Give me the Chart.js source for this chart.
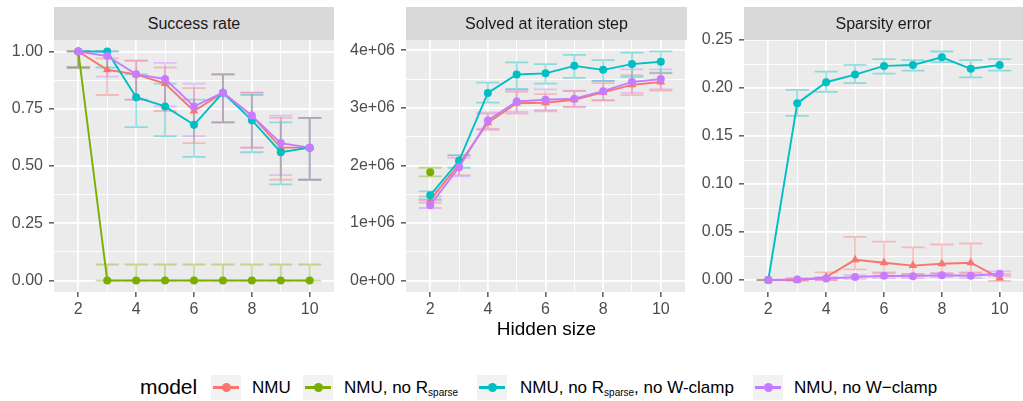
<!DOCTYPE html>
<html>
<head>
<meta charset="utf-8">
<script src="https://cdn.jsdelivr.net/npm/chart.js@4.4.1/dist/chart.umd.min.js"></script>
<style>
  body { margin: 0; background: #fff; font-family: "Liberation Sans", Arial, sans-serif; }
  #wrap { position: relative; width: 1023px; height: 401px; overflow: hidden; }
  canvas { position: absolute; top: 0; }
  .strip { position: absolute; top: 7px; height: 33px; background: #D9D9D9; color: #1A1A1A;
           font-size: 16px; line-height: 33px; text-align: center; }
  #xtitle { position: absolute; left: 406px; width: 281px; top: 318px; text-align: center;
            font-size: 19px; color: #000; }
  .lg { position: absolute; top: 377px; line-height: 22px; font-size: 17px; color: #000; white-space: nowrap; }
  .lg.title { font-size: 21px; top: 376px; }
  .lg sub { font-size: 10px; vertical-align: -3px; }
  .key { position: absolute; top: 375px; width: 30px; height: 25px; background: #F2F2F2; }
  .key i { position: absolute; left: 2px; right: 2px; top: 11px; height: 2.5px; }
  .key b { position: absolute; left: 10.5px; top: 8px; width: 9px; height: 9px; border-radius: 50%; }
</style>
</head>
<body>
<div id="wrap">
  <canvas id="successChart" width="340" height="320" style="left:0px"></canvas>
  <canvas id="solvedChart" width="345" height="320" style="left:345px"></canvas>
  <canvas id="sparsityChart" width="340" height="320" style="left:690px"></canvas>

  <div class="strip" style="left:54px;width:280px">Success rate</div>
  <div class="strip" style="left:406px;width:281px">Solved at iteration step</div>
  <div class="strip" style="left:744px;width:279px">Sparsity error</div>
  <div id="xtitle">Hidden size</div>

  <span class="lg title" style="left:140px">model</span>
  <div class="key" style="left:211px"><i style="background:#F8766D"></i><b style="background:#F8766D"></b></div>
  <span class="lg" style="left:252px">NMU</span>
  <div class="key" style="left:303px"><i style="background:#7CAE00"></i><b style="background:#7CAE00"></b></div>
  <span class="lg" style="left:344px">NMU, no R<sub>sparse</sub></span>
  <div class="key" style="left:477px"><i style="background:#00BFC4"></i><b style="background:#00BFC4"></b></div>
  <span class="lg" style="left:520px">NMU, no R<sub>sparse</sub>, no W-clamp</span>
  <div class="key" style="left:753px"><i style="background:#C77CFF"></i><b style="background:#C77CFF"></b></div>
  <span class="lg" style="left:794px">NMU, no W−clamp</span>
</div>

<script>
// x values shared by all panels
const hiddenSize = [2, 3, 4, 5, 6, 7, 8, 9, 10];
const xTicks = [2, 4, 6, 8, 10];
const xTickLabels = ['2', '4', '6', '8', '10'];

const modelNames = ['NMU', 'NMU, no Rsparse', 'NMU, no Rsparse, no W-clamp', 'NMU, no W−clamp'];

// Success rate
const successNMU = [1.00, 0.92, 0.90, 0.86, 0.74, 0.82, 0.72, 0.58, 0.58];
const successNMULo = [0.93, 0.81, 0.79, 0.74, 0.60, 0.69, 0.58, 0.44, 0.44];
const successNMUHi = [1.00, 0.97, 0.96, 0.93, 0.84, 0.90, 0.82, 0.71, 0.71];
const successNoSparse = [1.00, 0, 0, 0, 0, 0, 0, 0, 0];
const successNoSparseLo = [0.93, 0, 0, 0, 0, 0, 0, 0, 0];
const successNoSparseHi = [1.00, 0.07, 0.07, 0.07, 0.07, 0.07, 0.07, 0.07, 0.07];
const successNoBoth = [1.00, 1.00, 0.80, 0.76, 0.68, 0.82, 0.70, 0.56, 0.58];
const successNoBothLo = [0.93, 0.93, 0.67, 0.63, 0.54, 0.69, 0.56, 0.42, 0.44];
const successNoBothHi = [1.00, 1.00, 0.90, 0.86, 0.79, 0.90, 0.81, 0.69, 0.71];
const successNoClamp = [1.00, 0.98, 0.90, 0.88, 0.76, 0.82, 0.72, 0.60, 0.58];
const successNoClampLo = [0.93, 0.89, 0.79, 0.76, 0.63, 0.69, 0.58, 0.46, 0.44];
const successNoClampHi = [1.00, 1.00, 0.96, 0.95, 0.86, 0.90, 0.82, 0.72, 0.71];
const successTicks = [0, 0.25, 0.5, 0.75, 1];
const successTickLabels = ['0.00', '0.25', '0.50', '0.75', '1.00'];

// Solved at iteration step
const solvedNMU = [1.40e6, 2.02e6, 2.74e6, 3.08e6, 3.09e6, 3.14e6, 3.27e6, 3.40e6, 3.45e6];
const solvedNMULo = [1.35e6, 1.83e6, 2.62e6, 2.90e6, 2.94e6, 3.01e6, 3.13e6, 3.22e6, 3.30e6];
const solvedNMUHi = [1.46e6, 2.17e6, 2.90e6, 3.28e6, 3.24e6, 3.29e6, 3.43e6, 3.57e6, 3.60e6];
const solvedNoSparse = [1.88e6, null, null, null, null, null, null, null, null];
const solvedNoSparseLo = [1.81e6, null, null, null, null, null, null, null, null];
const solvedNoSparseHi = [1.96e6, null, null, null, null, null, null, null, null];
const solvedNoBoth = [1.48e6, 2.08e6, 3.26e6, 3.58e6, 3.60e6, 3.73e6, 3.66e6, 3.76e6, 3.80e6];
const solvedNoBothLo = [1.41e6, 1.96e6, 3.09e6, 3.33e6, 3.42e6, 3.52e6, 3.47e6, 3.54e6, 3.61e6];
const solvedNoBothHi = [1.55e6, 2.18e6, 3.44e6, 3.79e6, 3.76e6, 3.92e6, 3.83e6, 3.96e6, 3.98e6];
const solvedNoClamp = [1.31e6, 1.97e6, 2.78e6, 3.11e6, 3.14e6, 3.16e6, 3.29e6, 3.45e6, 3.50e6];
const solvedNoClampLo = [1.26e6, 1.81e6, 2.64e6, 2.93e6, 2.96e6, 3.02e6, 3.13e6, 3.26e6, 3.32e6];
const solvedNoClampHi = [1.39e6, 2.13e6, 2.92e6, 3.31e6, 3.32e6, 3.30e6, 3.47e6, 3.67e6, 3.67e6];
const solvedTicks = [0, 1e6, 2e6, 3e6, 4e6];
const solvedTickLabels = ['0e+00', '1e+06', '2e+06', '3e+06', '4e+06'];

// Sparsity error
const sparsityNMU = [0.000, 0.000, 0.003, 0.021, 0.018, 0.015, 0.017, 0.018, 0.002];
const sparsityNMULo = [0.000, -0.001, 0.000, 0.011, 0.008, 0.006, 0.007, 0.008, -0.001];
const sparsityNMUHi = [0.000, 0.002, 0.008, 0.045, 0.040, 0.034, 0.037, 0.038, 0.006];
const sparsityNoSparse = [0.000, null, null, null, null, null, null, null, null];
const sparsityNoSparseLo = [0.000, null, null, null, null, null, null, null, null];
const sparsityNoSparseHi = [0.000, null, null, null, null, null, null, null, null];
const sparsityNoBoth = [0.000, 0.184, 0.206, 0.214, 0.223, 0.224, 0.232, 0.220, 0.224];
const sparsityNoBothLo = [0.000, 0.171, 0.196, 0.205, 0.215, 0.218, 0.227, 0.211, 0.218];
const sparsityNoBothHi = [0.000, 0.198, 0.217, 0.224, 0.230, 0.229, 0.238, 0.229, 0.230];
const sparsityNoClamp = [0.000, 0.0005, 0.0015, 0.003, 0.0045, 0.004, 0.005, 0.0045, 0.0065];
const sparsityNoClampLo = [0.000, 0.000, 0.000, 0.001, 0.002, 0.002, 0.003, 0.002, 0.004];
const sparsityNoClampHi = [0.000, 0.001, 0.003, 0.005, 0.007, 0.006, 0.007, 0.007, 0.009];
const sparsityTicks = [0, 0.05, 0.1, 0.15, 0.2, 0.25];
const sparsityTickLabels = ['0.00', '0.05', '0.10', '0.15', '0.20', '0.25'];

const modelColors = ['#F8766D', '#7CAE00', '#00BFC4', '#C77CFF'];
const errColors = ['rgba(248,118,109,0.4)', 'rgba(124,174,0,0.4)', 'rgba(0,191,196,0.4)', 'rgba(199,124,255,0.4)'];
const pointStyles = ['triangle', 'circle', 'circle', 'circle'];

// grey panel background
const panelBgPlugin = {
  id: 'panelBg',
  beforeDraw: (chart) => {
    const { ctx, chartArea: a } = chart;
    ctx.save();
    ctx.fillStyle = '#EBEBEB';
    ctx.fillRect(a.left, a.top, a.right - a.left, a.bottom - a.top);
    ctx.restore();
  }
};

// error bars drawn under the lines
const errorBarPlugin = {
  id: 'errorBars',
  beforeDatasetsDraw: (chart) => {
    const { ctx, chartArea: a, scales: { x, y } } = chart;
    ctx.save();
    ctx.beginPath();
    ctx.rect(a.left, a.top, a.right - a.left, a.bottom - a.top);
    ctx.clip();
    ctx.lineWidth = 1.8;
    chart.data.datasets.slice().reverse().forEach(ds => {
      ctx.strokeStyle = ds.errColor;
      ds.errLo.forEach((lo, i) => {
        const hi = ds.errHi[i];
        if (lo == null || hi == null) return;
        const xc = x.getPixelForValue(hiddenSize[i]);
        const xl = x.getPixelForValue(hiddenSize[i] - 0.4);
        const xr = x.getPixelForValue(hiddenSize[i] + 0.4);
        const yl = y.getPixelForValue(lo);
        const yh = y.getPixelForValue(hi);
        ctx.beginPath();
        ctx.moveTo(xl, yh); ctx.lineTo(xr, yh);
        ctx.moveTo(xc, yh); ctx.lineTo(xc, yl);
        ctx.moveTo(xl, yl); ctx.lineTo(xr, yl);
        ctx.stroke();
      });
    });
    ctx.restore();
  }
};

// major ticks get labels, minor ticks halfway between them
const setTicks = (scale, majors, labels) => {
  const ticks = majors.map((v, i) => ({ value: v, lab: labels[i] }));
  for (let i = 0; i < majors.length - 1; i++) {
    ticks.push({ value: (majors[i] + majors[i + 1]) / 2 });
  }
  ticks.sort((p, q) => p.value - q.value);
  scale.ticks = ticks;
};

const gridOpts = {
  color: '#FFFFFF',
  lineWidth: (c) => (c.tick && c.tick.lab ? 1.7 : 0.9),
  tickColor: (c) => (c.tick && c.tick.lab ? '#333333' : 'rgba(0,0,0,0)'),
  tickWidth: 1.2,
  tickLength: 5,
  drawTicks: true
};

const tickFont = { family: '"Liberation Sans", Arial, sans-serif', size: 16 };

const makePanel = (canvasId, series, yTicks, yLabels, yMin, yMax, yWidth, padRight) => {
  const canvas = document.getElementById(canvasId);
  const datasets = series.map((s, k) => ({
    label: modelNames[k],
    data: hiddenSize.map((h, i) => ({ x: h, y: s.values[i] })),
    errLo: s.lo,
    errHi: s.hi,
    errColor: errColors[k],
    borderColor: modelColors[k],
    backgroundColor: modelColors[k],
    borderWidth: 1.9,
    pointStyle: pointStyles[k],
    pointRadius: k === 0 ? 5 : 4,
    pointBorderWidth: 0,
    tension: 0,
    spanGaps: false,
    order: 3 - k
  }));

  return new Chart(canvas.getContext('2d'), {
    type: 'line',
    data: { datasets },
    plugins: [panelBgPlugin, errorBarPlugin],
    options: {
      responsive: false,
      animation: false,
      devicePixelRatio: 1,
      layout: { padding: { top: 40, right: padRight, left: 0, bottom: 0 } },
      plugins: { legend: { display: false }, tooltip: { enabled: false }, title: { display: false } },
      scales: {
        x: {
          type: 'linear',
          min: 1.16,
          max: 10.84,
          afterBuildTicks: (scale) => setTicks(scale, xTicks, xTickLabels),
          afterFit: (scale) => { scale.height = 28; },
          border: { display: false },
          grid: gridOpts,
          ticks: {
            autoSkip: false,
            maxRotation: 0,
            padding: 3,
            color: '#4D4D4D',
            font: tickFont,
            callback: (v, i, ticks) => ticks[i].lab || ''
          }
        },
        y: {
          type: 'linear',
          min: yMin,
          max: yMax,
          afterBuildTicks: (scale) => setTicks(scale, yTicks, yLabels),
          afterFit: (scale) => { scale.width = yWidth; },
          border: { display: false },
          grid: gridOpts,
          ticks: {
            autoSkip: false,
            padding: 6,
            color: '#4D4D4D',
            font: tickFont,
            callback: (v, i, ticks) => ticks[i].lab || ''
          }
        }
      }
    }
  });
};

makePanel('successChart', [
  { values: successNMU, lo: successNMULo, hi: successNMUHi },
  { values: successNoSparse, lo: successNoSparseLo, hi: successNoSparseHi },
  { values: successNoBoth, lo: successNoBothLo, hi: successNoBothHi },
  { values: successNoClamp, lo: successNoClampLo, hi: successNoClampHi }
], successTicks, successTickLabels, -0.05, 1.05, 54, 6);

makePanel('solvedChart', [
  { values: solvedNMU, lo: solvedNMULo, hi: solvedNMUHi },
  { values: solvedNoSparse, lo: solvedNoSparseLo, hi: solvedNoSparseHi },
  { values: solvedNoBoth, lo: solvedNoBothLo, hi: solvedNoBothHi },
  { values: solvedNoClamp, lo: solvedNoClampLo, hi: solvedNoClampHi }
], solvedTicks, solvedTickLabels, -0.199e6, 4.179e6, 61, 3);

makePanel('sparsityChart', [
  { values: sparsityNMU, lo: sparsityNMULo, hi: sparsityNMUHi },
  { values: sparsityNoSparse, lo: sparsityNoSparseLo, hi: sparsityNoSparseHi },
  { values: sparsityNoBoth, lo: sparsityNoBothLo, hi: sparsityNoBothHi },
  { values: sparsityNoClamp, lo: sparsityNoClampLo, hi: sparsityNoClampHi }
], sparsityTicks, sparsityTickLabels, -0.0125, 0.25, 54, 6);
</script>
</body>
</html>
